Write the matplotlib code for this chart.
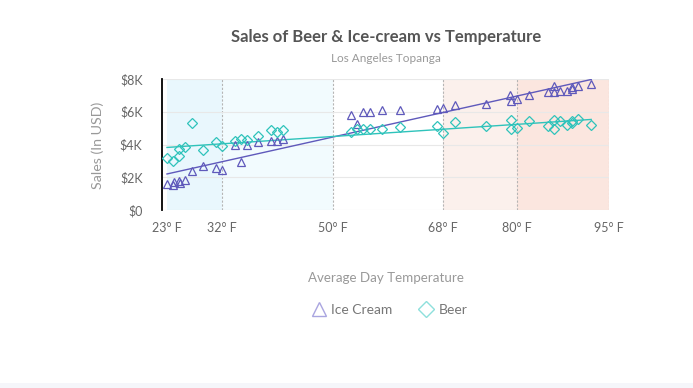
import matplotlib
matplotlib.use("Agg")
import matplotlib.pyplot as plt
from matplotlib.lines import Line2D

plt.rcParams['font.family'] = ['Lato', 'DejaVu Sans']

# temperatures (F) and sales (thousands USD)
ice_temp = [23, 24, 24.2, 25, 25.2, 26, 27, 28.9, 31, 32, 34, 35, 36, 37.9, 39.9, 41, 41.9,
            53, 54, 55, 56, 58, 61, 67, 68, 69.9, 75, 78.9, 79, 80, 82, 85, 86, 86, 87,
            88.1, 89, 89, 90, 92.1]
ice_sales = [1.6, 1.5, 1.7, 1.8, 1.65, 1.85, 2.38, 2.68, 2.54, 2.46, 4.0, 2.93, 3.94, 4.15, 4.23,
             4.2, 4.35, 5.83, 5.28, 5.96, 6.0, 6.12, 6.12, 6.14, 6.24, 6.42, 6.5, 7.03, 6.66,
             6.77, 7.05, 7.2, 7.56, 7.2, 7.26, 7.28, 7.52, 7.4, 7.56, 7.68]

beer_temp = [23, 24, 25, 25, 26, 27, 28.9, 31, 32, 34, 35, 36, 37.9, 39.9, 41, 41.9,
             53, 54, 55, 56, 58, 61, 67, 68, 69.9, 75, 79, 79, 80, 82, 85, 86, 86, 87,
             88.1, 89, 89, 90, 92.1]
beer_sales = [3.15, 3.0, 3.31, 3.7, 3.82, 5.32, 3.64, 4.13, 3.88, 4.23, 4.33, 4.25, 4.49, 4.88,
              4.77, 4.88, 4.76, 4.96, 4.92, 4.94, 4.96, 5.08, 5.12, 4.7, 5.37, 5.16, 5.47,
              4.96, 5.0, 5.43, 5.16, 5.49, 4.96, 5.41, 5.18, 5.45, 5.29, 5.53, 5.22]

# trend line ends
trend_temp = [23, 92.1]
ice_trend = [2.2, 7.97]
beer_trend = [3.82, 5.53]

# temperature zones
zone_edges = [23, 32, 50, 68, 80, 95]
zone_colors = ['#e9f7fd', '#f2fbfe', '#ffffff', '#fbf0ec', '#fbe6df']
xtick_labels = ['23° F', '32° F', '50° F', '68° F', '80° F', '95° F']
ytick_vals = [0, 2, 4, 6, 8]
ytick_labels = ['$0', '$2K', '$4K', '$6K', '$8K']

ICE = '#5f59bb'
BEER = '#2fc3bb'

fig = plt.figure(figsize=(6.93, 3.88), dpi=100)
fig.patch.set_facecolor('white')
ax = fig.add_axes([162 / 693, 178 / 388, 447 / 693, 131 / 388])

for i in range(len(zone_colors)):
    ax.axvspan(zone_edges[i], zone_edges[i + 1], color=zone_colors[i], lw=0, zorder=0)
for e in zone_edges[1:]:
    ax.axvline(e, color='#b5b5b5', lw=0.8, ls=(0, (2, 1.5)), zorder=1)
for v in ytick_vals:
    ax.axhline(v, color='#e8e8e8', lw=0.8, zorder=1)

ax.plot(trend_temp, ice_trend, color=ICE, lw=1.0, zorder=2)
ax.plot(trend_temp, beer_trend, color=BEER, lw=1.0, zorder=2)
ax.plot(ice_temp, ice_sales, ls='none', marker='^', ms=6, mfc='none', mec=ICE, mew=0.9, zorder=3)
ax.plot(beer_temp, beer_sales, ls='none', marker='D', ms=4.8, mfc='none', mec=BEER, mew=0.9, zorder=3)

ax.set_xlim(22.19, 95)
ax.set_ylim(0, 8)
ax.set_xticks(zone_edges)
ax.set_xticklabels(xtick_labels)
ax.set_yticks(ytick_vals)
ax.set_yticklabels(ytick_labels)
ax.tick_params(length=0, labelsize=9, colors='#666666')
ax.tick_params(axis='x', pad=9)
ax.tick_params(axis='y', pad=14)
for s in ['top', 'right', 'bottom']:
    ax.spines[s].set_visible(False)
ax.spines['left'].set_color('black')
ax.spines['left'].set_linewidth(1.3)

fig.text(386 / 693, 1 - 37 / 388, 'Sales of Beer & Ice-cream vs Temperature', ha='center', va='center',
         fontsize=12, fontweight='bold', color='#555555')
fig.text(386 / 693, 1 - 58 / 388, 'Los Angeles Topanga', ha='center', va='center',
         fontsize=8.5, color='#999999')
fig.text(98 / 693, 1 - 145 / 388, 'Sales (In USD)', ha='center', va='center', rotation=90,
         fontsize=10.3, color='#999999')
fig.text(386 / 693, 1 - 278 / 388, 'Average Day Temperature', ha='center', va='center',
         fontsize=9.6, color='#999999')

handles = [
    Line2D([], [], ls='none', marker='^', ms=10, mfc='none', mec='#a9a5e0', mew=1.0),
    Line2D([], [], ls='none', marker='D', ms=8, mfc='none', mec='#8ee0dc', mew=1.0),
]
fig.legend(handles, ['Ice Cream', 'Beer'], loc='center', bbox_to_anchor=(389 / 693, 1 - 310 / 388),
           ncol=2, frameon=False, fontsize=10, labelcolor='#777777', handletextpad=0.3,
           columnspacing=1.8, handlelength=1.2)

fig.patches.append(plt.Rectangle((0, 0), 1, 5 / 388, transform=fig.transFigure,
                                 color='#f5f6fa', lw=0))

fig.savefig('out.png', dpi=100)
